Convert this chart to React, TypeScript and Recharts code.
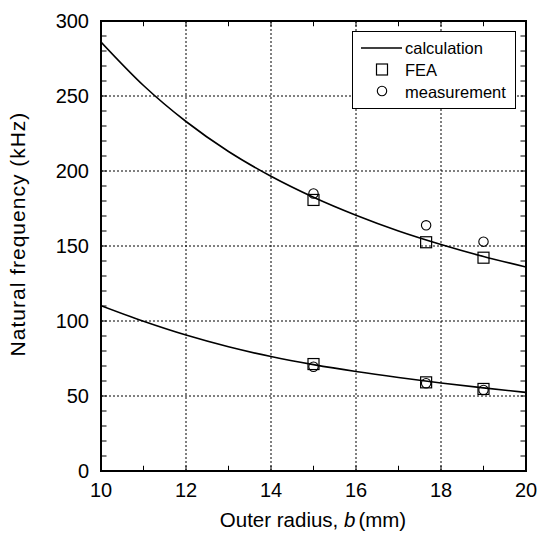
import {
  ComposedChart,
  Line,
  Scatter,
  XAxis,
  YAxis,
  CartesianGrid,
  ReferenceLine,
  ReferenceArea,
  Legend,
  Label,
} from "recharts"

// calculated curves (outer radius b in mm -> natural frequency in kHz)
const radius = [10, 11, 12, 13, 14, 15, 16, 17, 18, 19, 20]
const upperCalc = [286, 257, 233, 213, 196.5, 182.5, 170.5, 160, 151, 143, 136]
const lowerCalc = [110.2, 99.8, 90.6, 82.8, 76.3, 70.9, 66.3, 62.3, 58.7, 55.4, 52.4]

// FEA results
const feaRadius = [15, 17.65, 19]
const feaUpper = [180.7, 152.5, 142.2]
const feaLower = [71.3, 59.1, 54.7]

// measurements
const measRadius = [15, 17.65, 19]
const measUpper = [185, 163.8, 152.9]
const measLower = [69.5, 58.5, 54]

const xTicks = [10, 12, 14, 16, 18, 20]
const yTicks = [0, 50, 100, 150, 200, 250, 300]
const xMinorTicks = [11, 12, 13, 14, 15, 16, 17, 18, 19]
const yMinorTicks = [
  10, 20, 30, 40, 50, 60, 70, 80, 90, 100, 110, 120, 130, 140, 150, 160, 170, 180, 190, 200, 210, 220, 230, 240,
  250, 260, 270, 280, 290,
]

const toPoints = (xs: number[], ys: number[]) => xs.map((b, i) => ({ b, f: ys[i] }))

const upperLine = toPoints(radius, upperCalc)
const lowerLine = toPoints(radius, lowerCalc)
const feaPoints = [...toPoints(feaRadius, feaUpper), ...toPoints(feaRadius, feaLower)]
const measPoints = [...toPoints(measRadius, measUpper), ...toPoints(measRadius, measLower)]

const FONT = "'Liberation Sans', Arial, sans-serif"

const Square = (props: any) => {
  const { cx, cy } = props
  if (cx == null || cy == null) return null
  return <rect x={cx - 5.5} y={cy - 5.5} width={11} height={11} fill="none" stroke="#000" strokeWidth={1.2} />
}

const Ring = (props: any) => {
  const { cx, cy } = props
  if (cx == null || cy == null) return null
  return <circle cx={cx} cy={cy} r={4.7} fill="none" stroke="#000" strokeWidth={1.1} />
}

const LegendBox = () => (
  <svg width={164} height={78} style={{ display: "block", fontFamily: FONT }}>
    <rect x={0.5} y={0.5} width={163} height={77} fill="#fff" stroke="#000" strokeWidth={1} />
    <line x1={9} y1={17} x2={50} y2={17} stroke="#000" strokeWidth={1.5} />
    <text x={53} y={23} fontSize={16.5} fill="#000">
      calculation
    </text>
    <rect x={24.5} y={33} width={11} height={11} fill="none" stroke="#000" strokeWidth={1.2} />
    <text x={53} y={45} fontSize={16.5} fill="#000">
      FEA
    </text>
    <circle cx={30} cy={60} r={4.7} fill="none" stroke="#000" strokeWidth={1.1} />
    <text x={53} y={66.5} fontSize={16.5} fill="#000">
      measurement
    </text>
  </svg>
)

export default function App() {
  return (
    <div style={{ position: "absolute", left: 0, top: 0, width: 537, height: 533, background: "#fff" }}>
      <ComposedChart
        width={537}
        height={533}
        margin={{ top: 21, right: 11, bottom: 20, left: 0 }}
        style={{ fontFamily: FONT }}
      >
        <CartesianGrid stroke="#000" strokeDasharray="2 2" strokeWidth={1} />
        <XAxis
          type="number"
          dataKey="b"
          domain={[10, 20]}
          ticks={xTicks}
          allowDataOverflow
          height={42}
          tickLine={false}
          axisLine={false}
          tickSize={0}
          tickMargin={12}
          tick={{ fill: "#000", fontSize: 20, fontFamily: FONT }}
        >
          <Label
            content={() => (
              <text x={313} y={527} textAnchor="middle" fontSize={20.5} fontFamily={FONT} fill="#000">
                Outer radius, <tspan fontStyle="italic">b</tspan>
                <tspan dx={3}>(mm)</tspan>
              </text>
            )}
          />
        </XAxis>
        <YAxis
          type="number"
          domain={[0, 300]}
          ticks={yTicks}
          allowDataOverflow
          width={101}
          tickLine={false}
          axisLine={false}
          tickSize={0}
          tickMargin={12}
          tick={{ fill: "#000", fontSize: 20, fontFamily: FONT }}
        >
          <Label
            content={() => (
              <text
                x={25}
                y={234}
                transform="rotate(-90 25 234)"
                textAnchor="middle"
                fontSize={21}
                letterSpacing={1}
                fontFamily={FONT}
                fill="#000"
              >
                Natural frequency (kHz)
              </text>
            )}
          />
        </YAxis>

        {xMinorTicks.map((v) => (
          <ReferenceLine
            key={`xb-${v}`}
            segment={[
              { x: v, y: 0 },
              { x: v, y: 3.5 },
            ]}
            stroke="#000"
            strokeWidth={1}
          />
        ))}
        {xMinorTicks.map((v) => (
          <ReferenceLine
            key={`xt-${v}`}
            segment={[
              { x: v, y: 300 },
              { x: v, y: 296.5 },
            ]}
            stroke="#000"
            strokeWidth={1}
          />
        ))}
        {yMinorTicks.map((v) => (
          <ReferenceLine
            key={`yl-${v}`}
            segment={[
              { x: 10, y: v },
              { x: 10.13, y: v },
            ]}
            stroke="#000"
            strokeWidth={1}
          />
        ))}
        {yMinorTicks.map((v) => (
          <ReferenceLine
            key={`yr-${v}`}
            segment={[
              { x: 20, y: v },
              { x: 19.87, y: v },
            ]}
            stroke="#000"
            strokeWidth={1}
          />
        ))}

        <Line
          data={upperLine}
          dataKey="f"
          type="monotone"
          stroke="#000"
          strokeWidth={1.6}
          dot={false}
          isAnimationActive={false}
        />
        <Line
          data={lowerLine}
          dataKey="f"
          type="monotone"
          stroke="#000"
          strokeWidth={1.6}
          dot={false}
          isAnimationActive={false}
        />
        <Scatter data={feaPoints} dataKey="f" shape={Square} isAnimationActive={false} />
        <Scatter data={measPoints} dataKey="f" shape={Ring} isAnimationActive={false} />

        <ReferenceArea x1={10} x2={20} y1={0} y2={300} fill="none" stroke="#000" strokeWidth={2} ifOverflow="visible" />

        <Legend
          layout="vertical"
          align="center"
          verticalAlign="middle"
          wrapperStyle={{ left: 352, top: 31, width: 164, height: 78 }}
          content={() => <LegendBox />}
        />
      </ComposedChart>
    </div>
  )
}
